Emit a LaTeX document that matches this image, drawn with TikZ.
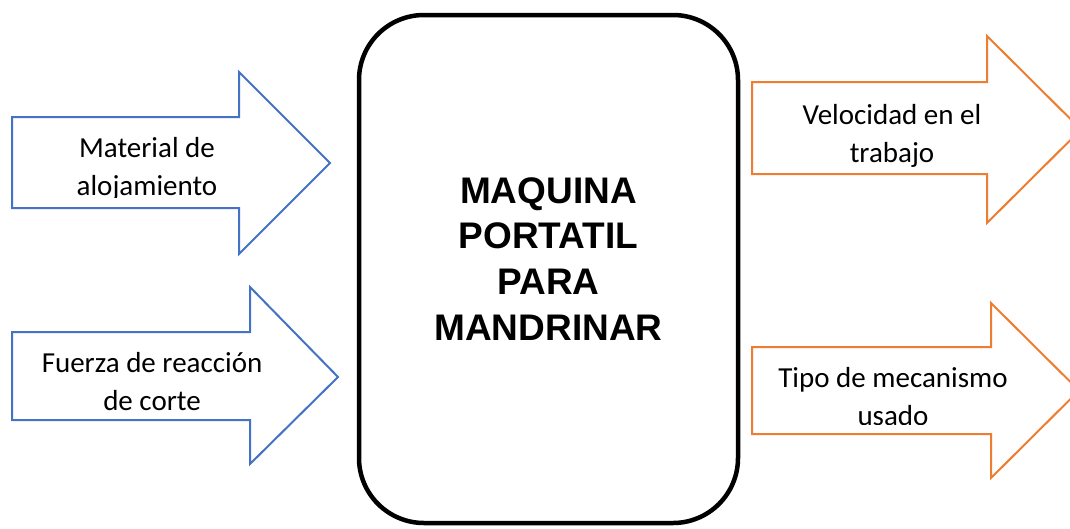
\documentclass[tikz,border=0pt]{standalone}
\usepackage{fontspec}
\setmainfont{Carlito}
\newfontfamily\headfont{Liberation Sans}
\definecolor{inblue}{HTML}{4472C4}
\definecolor{outorange}{HTML}{ED7D31}
\begin{document}
\begin{tikzpicture}[x=1pt,y=-1pt,
  inarrow/.style={draw=inblue, line width=2pt, line join=miter, fill=white},
  outarrow/.style={draw=outorange, line width=2pt, line join=miter, fill=white},
  lbl/.style={font=\fontsize{29}{38}\selectfont, align=center, inner sep=0pt, anchor=base},
  ttl/.style={font=\headfont\bfseries\fontsize{37}{45.6}\selectfont, align=center, inner sep=0pt, anchor=base},
  machinebox/.style={draw=black, line width=4.5pt, rounded corners=65pt, minimum width=379pt, minimum height=508pt, inner sep=0pt}]
\useasboundingbox (0,0) rectangle (1070,528);
% central block
\node[machinebox] (machine) at (548.5,269) {};
\node[ttl] (title) at (548.5,340) {MAQUINA\\PORTATIL\\PARA\\MANDRINAR};
% input arrows
\draw[inarrow] (12,117) -- (239,117) -- (239,72) -- (330,163) -- (239,254) -- (239,208) -- (12,208) -- cycle;
\draw[inarrow] (12,332) -- (250,332) -- (250,287) -- (338,377) -- (250,464) -- (250,420) -- (12,420) -- cycle;
% output arrows
\draw[outarrow] (752,82) -- (987,82) -- (987,36) -- (1081,129.5) -- (987,223) -- (987,174) -- (752,174) -- cycle;
\draw[outarrow] (752,347) -- (991,347) -- (991,303) -- (1079,390.5) -- (991,478) -- (991,434) -- (752,434) -- cycle;
% labels
\begin{scope}
\clip (14,60) rectangle (330,197);
\node[lbl] (in1) at (147,195) {Material de\\alojamiento};
\end{scope}
\node[lbl] (in2) at (152,410) {Fuerza de reacción\\de corte};
\node[lbl] (out1) at (892,162) {Velocidad en el\\trabajo};
\begin{scope}
\clip (754,300) rectangle (1070,424);
\node[lbl] (out2) at (893,425) {Tipo de mecanismo\\usado};
\end{scope}
\end{tikzpicture}
\end{document}
